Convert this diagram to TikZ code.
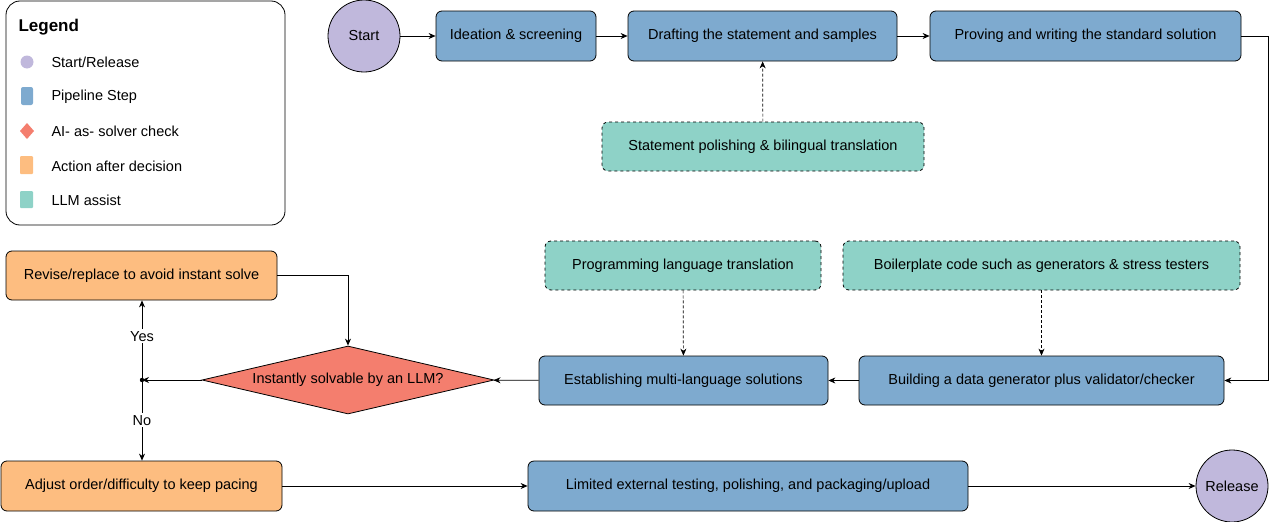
\documentclass[tikz,border=0pt]{standalone}
\usepackage{fontspec}
\setmainfont{Liberation Sans}
\usetikzlibrary{shapes.geometric,arrows.meta}
\definecolor{cpur}{HTML}{C0B8DC}
\definecolor{cblu}{HTML}{7EAACF}
\definecolor{cred}{HTML}{F47E6E}
\definecolor{cora}{HTML}{FDBD80}
\definecolor{ctea}{HTML}{8ED2C7}
\begin{document}
\begin{tikzpicture}[x=1pt,y=-1pt,font=\fontsize{14.5}{17}\selectfont,
  box/.style={draw,rounded corners=6pt,line width=0.8pt,inner sep=0pt},
  pstep/.style={box,fill=cblu},
  llm/.style={box,fill=ctea,dashed},
  act/.style={box,fill=cora},
  circ/.style={circle,draw,fill=cpur,line width=0.8pt,minimum size=72pt,inner sep=0pt},
  arr/.style={-{Stealth[length=7pt,width=6pt]},line width=0.7pt},
  darr/.style={arr,densely dashed},
  lab/.style={fill=white,inner sep=2pt}]
\useasboundingbox (0,0) rectangle (1277,522);
% legend
\draw[rounded corners=14pt,line width=0.8pt] (6,1) rectangle (285,225);
\node[anchor=west,font=\fontsize{17}{20}\selectfont\bfseries] (lg) at (15,27) {Legend};
\fill[cpur] (27,62) circle (6.5);
\fill[cblu,rounded corners=2pt] (21,87) rectangle (33,105);
\fill[cred] (27,123) -- (34,131) -- (27,139) -- (20,131) -- cycle;
\fill[cora,rounded corners=1pt] (20,156) rectangle (33,174);
\fill[ctea,rounded corners=1pt] (20,191) rectangle (33,208);
\node[anchor=west] (l1) at (48,62) {Start/Release};
\node[anchor=west] (l2) at (48,97) {Pipeline Step};
\node[anchor=west] (l3) at (48,131) {AI- as- solver check};
\node[anchor=west] (l4) at (48,166) {Action after decision};
\node[anchor=west] (l5) at (48,200) {LLM assist};
% nodes
\node[circ] (start) at (364,36) {Start};
\node[circ] (rel) at (1232,486) {Release};
\node[pstep,minimum width=160pt,minimum height=50pt] (idea) at (516,36) {Ideation \& screening};
\node[pstep,minimum width=269pt,minimum height=50pt] (draft) at (762.5,36) {Drafting the statement and samples};
\node[pstep,minimum width=311pt,minimum height=50pt] (prove) at (1085.5,36) {Proving and writing the standard solution};
\node[llm,minimum width=322pt,minimum height=49pt] (pol) at (763,146.5) {Statement polishing \& bilingual translation};
\node[llm,minimum width=276pt,minimum height=49pt] (prog) at (683,265.5) {Programming language translation};
\node[llm,minimum width=397pt,minimum height=49pt] (boil) at (1041.5,265.5) {Boilerplate code such as generators \& stress testers};
\node[pstep,minimum width=289pt,minimum height=49pt] (est) at (683.5,380.5) {Establishing multi-language solutions};
\node[pstep,minimum width=365pt,minimum height=49pt] (build) at (1041.5,380.5) {Building a data generator plus validator/checker};
\node[diamond,aspect=4.3,draw,fill=cred,line width=0.8pt,minimum width=292pt,minimum height=68pt,inner sep=0pt] (dia) at (348,380) {Instantly solvable by an LLM?};
\node[act,minimum width=271pt,minimum height=49pt] (rev) at (141.5,275.5) {Revise/replace to avoid instant solve};
\node[act,minimum width=281pt,minimum height=50pt] (adj) at (141.5,486) {Adjust order/difficulty to keep pacing};
\node[pstep,minimum width=440pt,minimum height=50pt] (lim) at (748,486) {Limited external testing, polishing, and packaging/upload};
\coordinate (j) at (142,380);
\fill (j) circle (2.2);
% edges
\draw[arr] (start) -- (idea);
\draw[arr] (idea) -- (draft);
\draw[arr] (draft) -- (prove);
\draw[darr] (pol) -- (draft);
\draw[arr] (prove.east) -- (1268,36) |- (build.east);
\draw[arr] (build) -- (est);
\draw[arr] (est) -- (dia);
\draw[arr] (dia.west) -- (j);
\draw[darr] (prog) -- (est);
\draw[darr] (boil) -- (build);
\draw[arr] (j) -- node[lab,pos=0.55]{Yes} (j |- rev.south);
\draw[arr] (j) -- node[lab,pos=0.5]{No} (j |- adj.north);
\draw[arr] (rev.east) -| (dia.north);
\draw[arr] (adj) -- (lim);
\draw[arr] (lim) -- (rel);
\end{tikzpicture}
\end{document}
